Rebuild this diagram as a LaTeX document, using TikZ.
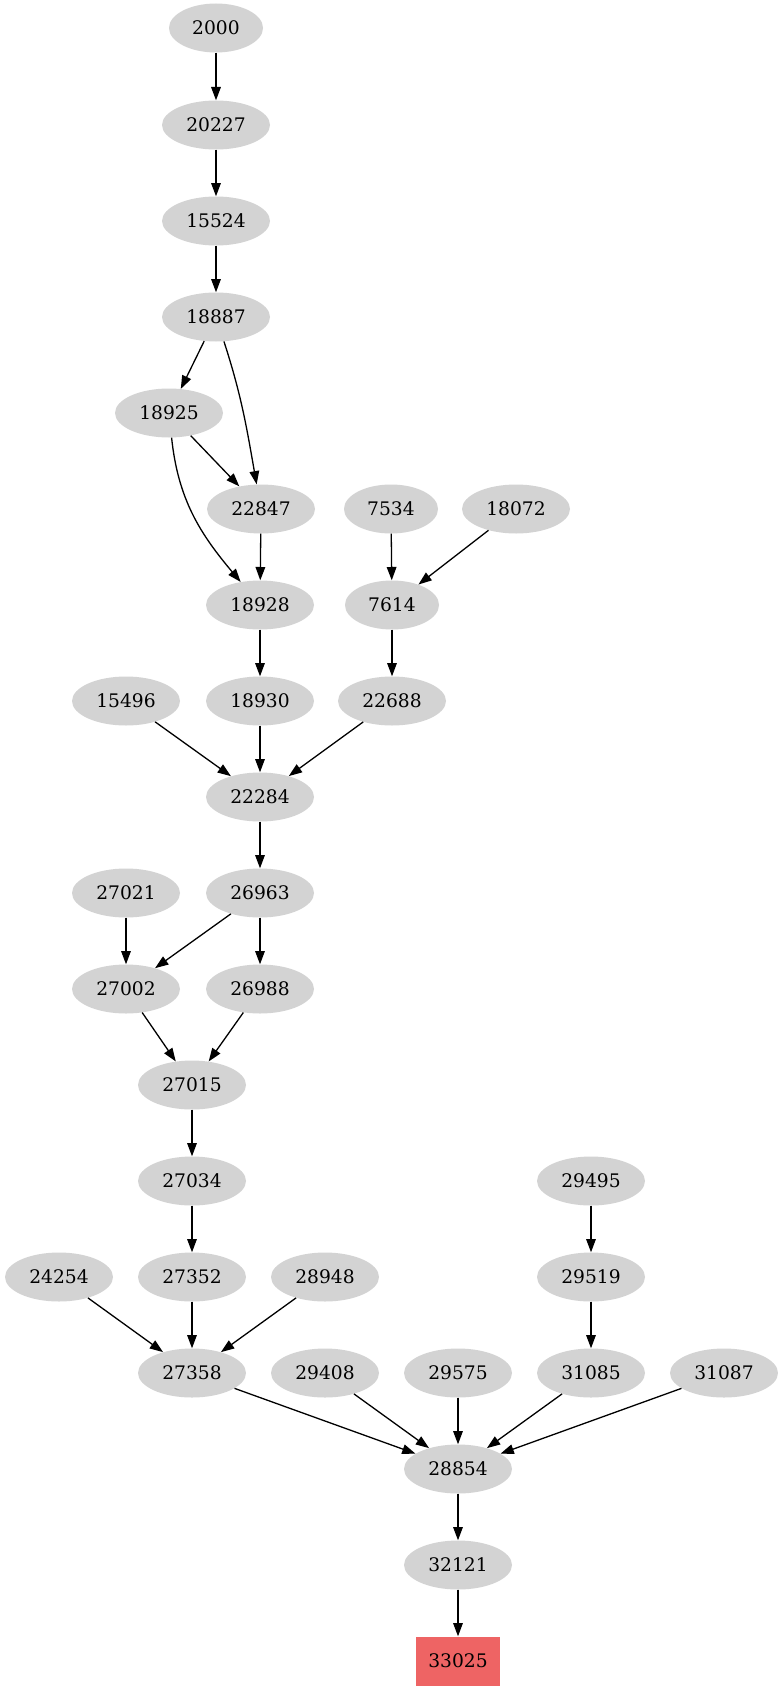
\documentclass[tikz,border=0pt]{standalone}
\usepackage{fontspec}
\setmainfont{DejaVu Serif}
\usetikzlibrary{shapes.geometric,arrows.meta}
\definecolor{nodegray}{RGB}{211,211,211}
\definecolor{targetred}{RGB}{238,100,100}
\tikzset{
  gnode/.style={ellipse, fill=nodegray, draw=none, minimum width=108pt, minimum height=49pt, inner sep=0pt,
    font=\fontsize{18.67}{22}\selectfont},
  gsmall/.style={gnode, minimum width=94pt},
  gtarget/.style={rectangle, fill=targetred, draw=none, minimum width=84pt, minimum height=49pt, inner sep=0pt,
    font=\fontsize{18.67}{22}\selectfont},
  edge/.style={draw=black, line width=1.3pt, -{Triangle[length=13.3pt,width=9.6pt]}}
}
\begin{document}
\begin{tikzpicture}[x=1pt,y=-1pt]
\useasboundingbox (0,0) rectangle (778,1691);
\node[gsmall] (n2000) at (216,28) {2000};
\node[gnode] (n20227) at (216,125) {20227};
\node[gnode] (n15524) at (216,221) {15524};
\node[gnode] (n18887) at (216,317) {18887};
\node[gnode] (n18925) at (169,413) {18925};
\node[gnode] (n22847) at (261,509) {22847};
\node[gsmall] (n7534) at (391,509) {7534};
\node[gnode] (n18072) at (516,509) {18072};
\node[gnode] (n18928) at (260,605) {18928};
\node[gsmall] (n7614) at (392,605) {7614};
\node[gnode] (n15496) at (126,701) {15496};
\node[gnode] (n18930) at (260,701) {18930};
\node[gnode] (n22688) at (392,701) {22688};
\node[gnode] (n22284) at (260,797) {22284};
\node[gnode] (n27021) at (126,893) {27021};
\node[gnode] (n26963) at (260,893) {26963};
\node[gnode] (n27002) at (126,989) {27002};
\node[gnode] (n26988) at (260,989) {26988};
\node[gnode] (n27015) at (192,1085) {27015};
\node[gnode] (n27034) at (192,1181) {27034};
\node[gnode] (n29495) at (591,1181) {29495};
\node[gnode] (n24254) at (59,1277) {24254};
\node[gnode] (n27352) at (192,1277) {27352};
\node[gnode] (n28948) at (325,1277) {28948};
\node[gnode] (n29519) at (591,1277) {29519};
\node[gnode] (n27358) at (192,1373) {27358};
\node[gnode] (n29408) at (325,1373) {29408};
\node[gnode] (n29575) at (458,1373) {29575};
\node[gnode] (n31085) at (591,1373) {31085};
\node[gnode] (n31087) at (724,1373) {31087};
\node[gnode] (n28854) at (458,1469) {28854};
\node[gnode] (n32121) at (458,1565) {32121};
\node[gtarget] (n33025) at (458,1661) {33025};

\draw[edge] (n2000) -- (n20227);
\draw[edge] (n20227) -- (n15524);
\draw[edge] (n15524) -- (n18887);
\draw[edge] (n18887) -- (n18925);
\draw[edge] (n18887) to[out=-72,in=100] (n22847);
\draw[edge] (n18925) -- (n22847);
\draw[edge] (n18925) to[out=-84,in=130] (n18928);
\draw[edge] (n22847) -- (n18928);
\draw[edge] (n7534) -- (n7614);
\draw[edge] (n18072) -- (n7614);
\draw[edge] (n18928) -- (n18930);
\draw[edge] (n7614) -- (n22688);
\draw[edge] (n15496) -- (n22284);
\draw[edge] (n18930) -- (n22284);
\draw[edge] (n22688) -- (n22284);
\draw[edge] (n22284) -- (n26963);
\draw[edge] (n27021) -- (n27002);
\draw[edge] (n26963) -- (n27002);
\draw[edge] (n26963) -- (n26988);
\draw[edge] (n27002) -- (n27015);
\draw[edge] (n26988) -- (n27015);
\draw[edge] (n27015) -- (n27034);
\draw[edge] (n27034) -- (n27352);
\draw[edge] (n29495) -- (n29519);
\draw[edge] (n24254) -- (n27358);
\draw[edge] (n27352) -- (n27358);
\draw[edge] (n28948) -- (n27358);
\draw[edge] (n29519) -- (n31085);
\draw[edge] (n27358) -- (n28854);
\draw[edge] (n29408) -- (n28854);
\draw[edge] (n29575) -- (n28854);
\draw[edge] (n31085) -- (n28854);
\draw[edge] (n31087) -- (n28854);
\draw[edge] (n28854) -- (n32121);
\draw[edge] (n32121) -- (n33025);
\end{tikzpicture}
\end{document}
